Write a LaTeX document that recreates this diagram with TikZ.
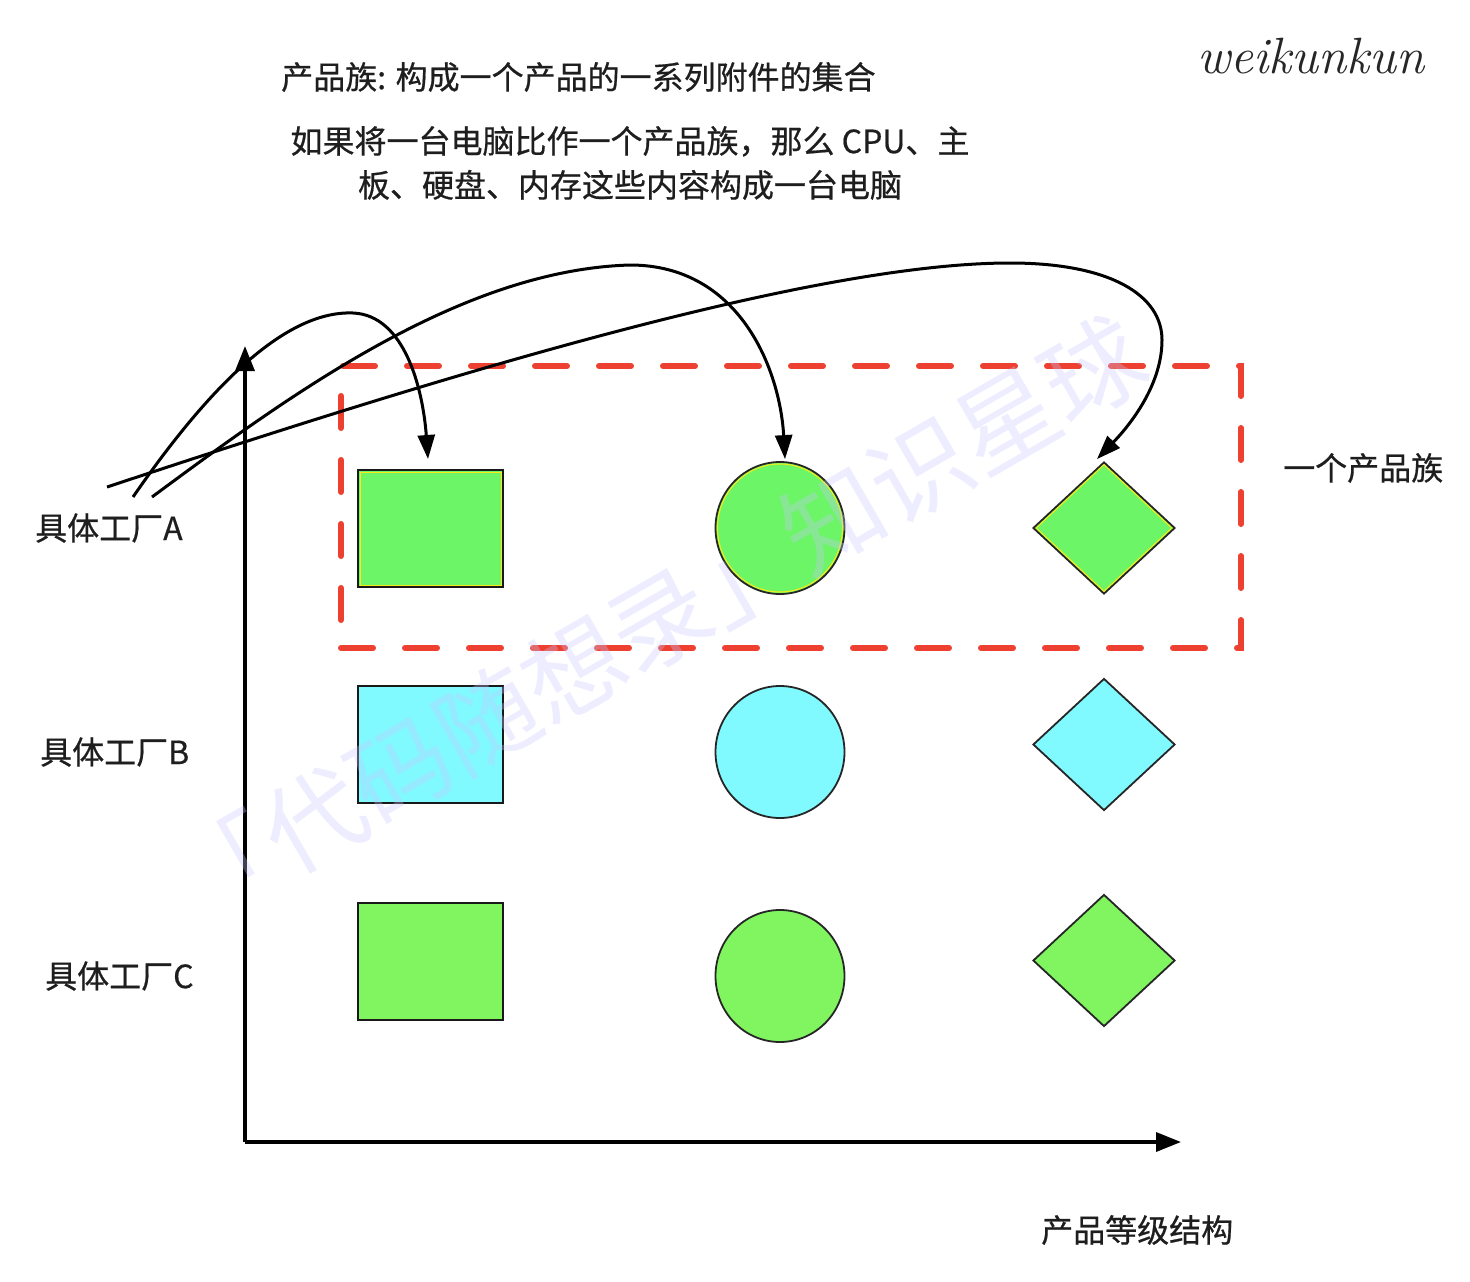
\documentclass[tikz,border=0pt]{standalone}
\usepackage{fontspec}
\setmainfont{Noto Sans CJK SC}
\newfontfamily\lblfont{Noto Sans CJK SC}[FakeBold=0.6]
\usetikzlibrary{shapes.geometric,arrows.meta,calc}
\definecolor{gA}{RGB}{108,245,102}
\definecolor{gC}{RGB}{128,245,96}
\definecolor{cyB}{RGB}{128,250,255}
\definecolor{redd}{RGB}{238,64,48}
\definecolor{wmc}{RGB}{200,200,255}
\definecolor{inkc}{RGB}{30,30,30}
\definecolor{hiy}{RGB}{250,235,20}
\tikzset{
  lbl/.style={inner sep=0pt, font=\lblfont\fontsize{32}{38}\selectfont, text=inkc},
  prodbox/.style={rectangle, draw=black!90, line width=2pt, minimum width=145pt, minimum height=117pt, inner sep=0pt},
  prodcirc/.style={ellipse, draw=black!85, line width=1.8pt, minimum width=129pt, minimum height=132pt, inner sep=0pt},
  proddia/.style={diamond, draw=black!85, line width=1.8pt, minimum width=142pt, minimum height=132pt, inner sep=0pt},
  hilite/.style={draw=hiy, line width=1pt, fill=none, inner sep=0pt},
  link/.style={line width=3pt, draw=black, -{Triangle[length=24pt,width=17pt]}},
  axis/.style={line width=3.5pt, draw=black, -{Triangle[length=25pt,width=19pt]}},
  famframe/.style={draw=redd, line width=6pt, dash pattern=on 32pt off 32pt, line cap=round, rectangle, inner sep=0pt}
}
\begin{document}
\begin{tikzpicture}[x=1pt,y=-1pt]
\useasboundingbox (0,0) rectangle (1470,1282);
\fill[white] (0,0) rectangle (1470,1282);

% texts
\node[lbl, anchor=west] (title) at (281,77) {产品族: 构成一个产品的一系列附件的集合};
\node[lbl, align=center, font=\lblfont\fontsize{32}{44}\selectfont] (desc) at (630,163) {如果将一台电脑比作一个产品族，那么 CPU、主\\板、硬盘、内存这些内容构成一台电脑};
\node[inner sep=0pt, anchor=base west, text=black!85, font=\fontfamily{lmr}\fontsize{51}{52}\selectfont\itshape] (sig) at (1197,73) {weikunkun};
\node[lbl, anchor=west] (famlbl) at (1283,468) {一个产品族};
\node[lbl, anchor=west] (fA) at (35,528) {具体工厂A};
\node[lbl, anchor=west] (fB) at (40,752) {具体工厂B};
\node[lbl, anchor=west] (fC) at (45,976) {具体工厂C};
\node[lbl, anchor=west] (axlbl) at (1041,1230) {产品等级结构};

% family frame
\node[famframe, minimum width=900pt, minimum height=282pt] (fam) at (791,507) {};

% products
\node[prodbox, fill=gA] (sqA) at (430.5,528.5) {};
\node[prodcirc, fill=gA] (ciA) at (780,528) {};
\node[proddia, fill=gA] (diA) at (1104,528) {};
\node[prodbox, fill=cyB] (sqB) at (430.5,744.5) {};
\node[prodcirc, fill=cyB] (ciB) at (780,752) {};
\node[proddia, fill=cyB] (diB) at (1104,744.5) {};
\node[prodbox, fill=gC] (sqC) at (430.5,961) {};
\node[prodcirc, fill=gC] (ciC) at (780,976) {};
\node[proddia, fill=gC] (diC) at (1104,960.5) {};

% yellow inner outlines of the first family
\node[hilite, rectangle, minimum width=141pt, minimum height=113pt] (sqAh) at (sqA) {};
\node[hilite, ellipse, minimum width=125pt, minimum height=128pt] (ciAh) at (ciA) {};
\node[hilite, diamond, minimum width=136pt, minimum height=127pt] (diAh) at (diA) {};

% axes
\coordinate (O) at (245,1142);
\coordinate (ytip) at (245,346);
\coordinate (xtip) at (1181,1142);
\draw[axis] (O) -- (ytip);
\draw[axis] (O) -- (xtip);

% links from factory A
\coordinate (a1) at (133,497);
\coordinate (a2) at (152,497);
\coordinate (a3) at (107,487);
\draw[link] (a1) .. controls (200,400) and (280,310) .. (353,313)
  .. controls (405,315) and (423,390) .. ($(sqA.north)+(-2.5,-10)$);
\draw[link] (a2) .. controls (290,395) and (460,270) .. (630,265)
  .. controls (740,265) and (780,370) .. ($(ciA.north)+(5,-2)$);
\draw[link] (a3) .. controls (400,390) and (800,263) .. (1010,263)
  .. controls (1110,263) and (1162,295) .. (1162,340)
  .. controls (1162,385) and (1130,425) .. ($(diA.north)+(-7,-2)$);

% watermark
\node[inner sep=0pt, font=\fontsize{100}{100}\selectfont, text=wmc, text opacity=0.32, rotate=30] (wm) at (660,620) {「代码随想录」知识星球};
\end{tikzpicture}
\end{document}
